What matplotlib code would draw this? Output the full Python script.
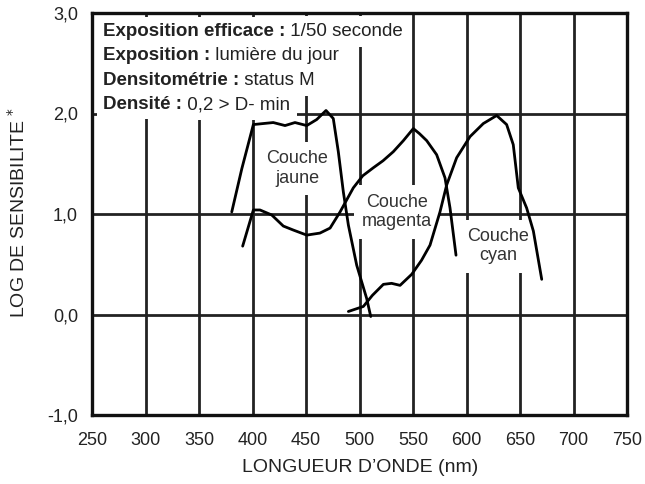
import numpy as np
import matplotlib.pyplot as plt

plt.rcParams['font.family'] = ['Liberation Sans', 'DejaVu Sans']

# valeurs (longueur d'onde nm, log sensibilite)
jaune_x = [380.6, 390, 400.8, 410, 419.4, 430.4, 439.7, 450.7, 460, 468.7, 475.5,
           480.2, 484.9, 489.6, 497.4, 506.7, 510.5]
jaune_y = [1.02, 1.45, 1.89, 1.90, 1.91, 1.88, 1.91, 1.88, 1.94, 2.03, 1.95,
           1.62, 1.22, 0.89, 0.49, 0.16, -0.02]

magenta_x = [390.8, 400.8, 407, 418, 428.8, 438.2, 450.7, 463, 472.5, 481.8, 494.2,
             503, 512.9, 522, 531.6, 541, 550.3, 556, 562.8, 572.1, 579.9, 584.6, 590.2]
magenta_y = [0.68, 1.04, 1.04, 0.99, 0.88, 0.84, 0.79, 0.81, 0.86, 1.02, 1.26,
             1.38, 1.46, 1.53, 1.62, 1.73, 1.85, 1.80, 1.73, 1.59, 1.36, 1.06, 0.59]

cyan_x = [489.6, 503.6, 512, 522.3, 530, 537.9, 548.8, 558, 565.9, 575.2, 581.5,
          590.8, 603.3, 615.7, 628.2, 637.5, 643.7, 648.4, 656.2, 662.5, 670.3]
cyan_y = [0.03, 0.08, 0.19, 0.30, 0.31, 0.29, 0.40, 0.54, 0.69, 1.02, 1.29,
          1.56, 1.77, 1.90, 1.98, 1.89, 1.69, 1.26, 1.06, 0.83, 0.35]

x_ticks = [250, 300, 350, 400, 450, 500, 550, 600, 650, 700, 750]
y_ticks = [-1.0, 0.0, 1.0, 2.0, 3.0]
y_labels = ['-1,0', '0,0', '1,0', '2,0', '3,0']

infos = [('Exposition efficace :', ' 1/50 seconde'),
         ('Exposition :', ' lumière du jour'),
         ('Densitométrie :', ' status M'),
         ('Densité :', ' 0,2 > D- min')]

fig = plt.figure(figsize=(6.45, 4.84), dpi=100)
ax = fig.add_axes([92/645, 1 - 415/484, 535/645, 402/484])

ax.set_xlim(250, 750)
ax.set_ylim(-1, 3)
ax.set_xticks(x_ticks)
ax.set_xticklabels([str(v) for v in x_ticks])
ax.set_yticks(y_ticks)
ax.set_yticklabels(y_labels)
ax.tick_params(length=0, labelsize=13, colors='#222222')
ax.tick_params(axis='x', pad=12)
ax.tick_params(axis='y', pad=10)

ax.set_axisbelow(True)
ax.grid(True, color='#222222', linewidth=2.0)
for s in ax.spines.values():
    s.set_linewidth(2.4)
    s.set_color('#111111')
    s.set_zorder(6)

for xs, ys in [(jaune_x, jaune_y), (magenta_x, magenta_y), (cyan_x, cyan_y)]:
    ax.plot(xs, ys, color='black', linewidth=2.0, zorder=5,
            solid_joinstyle='round', solid_capstyle='round')

box = dict(facecolor='white', edgecolor='none', pad=6)
ax.text(442, 1.45, 'Couche\njaune', ha='center', va='center', fontsize=13,
        color='#333333', linespacing=1.2, bbox=box, zorder=3)
ax.text(535, 1.02, 'Couche\nmagenta', ha='center', va='center', fontsize=13,
        color='#333333', linespacing=1.2, bbox=box, zorder=3)
ax.text(629.5, 0.68, 'Couche\ncyan', ha='center', va='center', fontsize=13,
        color='#333333', linespacing=1.2, bbox=box, zorder=3)

# bloc d'informations en haut a gauche
y0 = 2.82
for i, (bold, normal) in enumerate(infos):
    t = ax.text(260, y0 - i * 0.245, bold, fontsize=13.5, fontweight='bold',
                color='#222222', va='center', ha='left',
                bbox=dict(facecolor='white', edgecolor='none', pad=4), zorder=3.5)
    ax.annotate(normal, xy=(1, 0.5), xycoords=t, va='center', ha='left',
                fontsize=13.5, color='#222222',
                bbox=dict(facecolor='white', edgecolor='none', pad=5), zorder=3)

fig.text(360/645, 1 - 468/484, 'LONGUEUR D\u2019ONDE (nm)', ha='center', va='center',
         fontsize=14, color='#222222')
fig.text(18/645, 1 - 212/484, 'LOG DE SENSIBILITE $^{*}$', ha='center', va='center',
         rotation=90, fontsize=14, color='#222222')

fig.savefig('out.png', dpi=100)
